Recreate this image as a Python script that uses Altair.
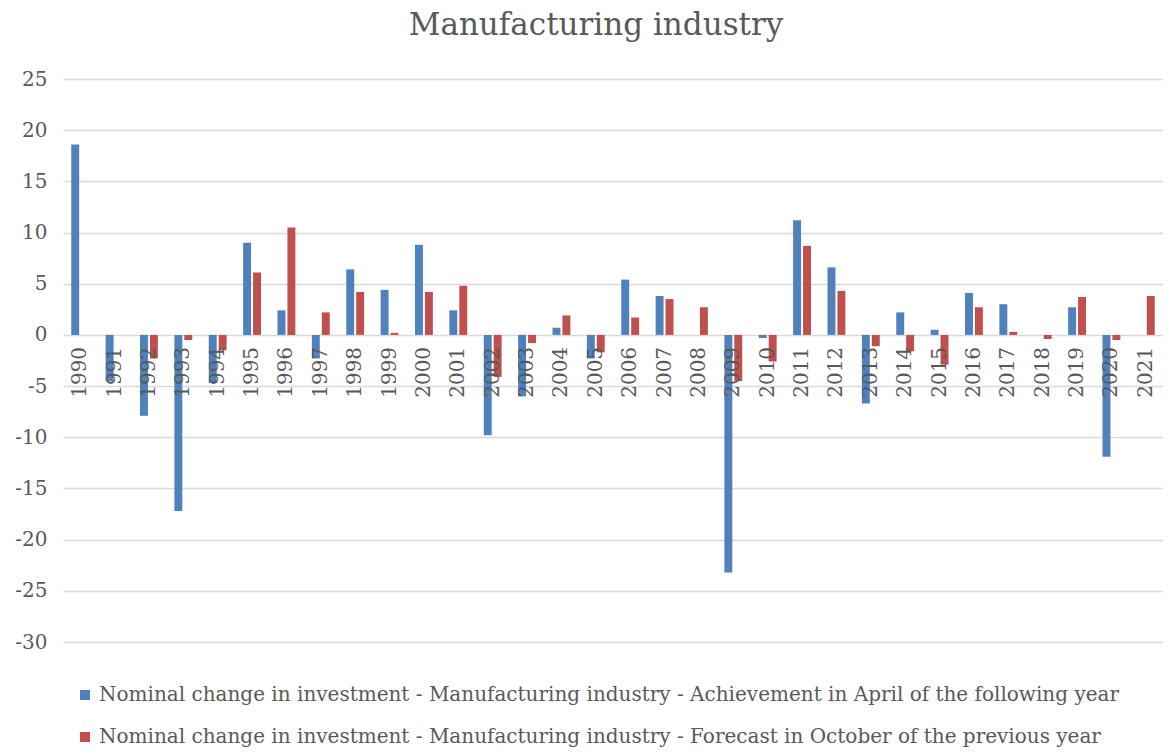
import altair as alt
import pandas as pd

years = [str(y) for y in range(1990, 2022)]
achievement = [18.6, -4.5, -7.9, -17.2, -4.7, 9.0, 2.4, -2.3, 6.4, 4.4, 8.8, 2.4,
               -9.8, -6.0, 0.7, -2.3, 5.4, 3.8, None, -23.2, -0.3, 11.2, 6.6, -6.7,
               2.2, 0.5, 4.1, 3.0, None, 2.7, -11.9, None]
forecast = [None, None, -2.3, -0.5, -1.5, 6.1, 10.5, 2.2, 4.2, 0.2, 4.2, 4.8,
            -4.1, -0.8, 1.9, -1.7, 1.7, 3.5, 2.7, -4.5, -2.6, 8.7, 4.3, -1.1,
            -1.6, -2.9, 2.7, 0.3, -0.4, 3.7, -0.5, 3.8]
series_names = [
    "Nominal change in investment - Manufacturing industry - Achievement in April of the following year",
    "Nominal change in investment - Manufacturing industry - Forecast in October of the previous year",
]
series_colors = ["#4F81BD", "#C0504D"]

rows = []
for name, vals in zip(series_names, [achievement, forecast]):
    for y, v in zip(years, vals):
        if v is not None:
            rows.append({"year": y, "series": name, "value": v})
df = pd.DataFrame(rows)
labels_df = pd.DataFrame({"year": years})

FONT = "DejaVu Serif"
TXT = "#595959"

xscale = alt.Scale(domain=years, paddingInner=0.48, paddingOuter=0.24)

bars = alt.Chart(df).mark_bar().encode(
    x=alt.X("year:N", scale=xscale, axis=None, sort=years),
    xOffset=alt.XOffset("series:N", scale=alt.Scale(domain=series_names, paddingInner=0.2, paddingOuter=0)),
    y=alt.Y("value:Q", scale=alt.Scale(domain=[-30, 25], nice=False, zero=False),
            axis=alt.Axis(values=list(range(-30, 30, 5)), title=None, domain=False, ticks=False,
                          grid=True, gridColor="#D9D9D9", gridWidth=1.3,
                          labelExpr="'' + datum.value",
                          labelFont=FONT, labelFontSize=20, labelColor=TXT, labelPadding=16)),
    color=alt.Color("series:N", scale=alt.Scale(domain=series_names, range=series_colors),
                    legend=alt.Legend(title=None, orient="none", legendX=12, legendY=606,
                                      direction="vertical", symbolType="square", symbolSize=100,
                                      symbolStrokeWidth=0, labelFont=FONT, labelFontSize=20,
                                      labelColor=TXT, labelLimit=1200, rowPadding=22,
                                      labelOffset=4)),
)

labels = alt.Chart(labels_df).mark_text(
    angle=270, align="right", baseline="middle", dx=-12, dy=0, font=FONT, fontSize=20, color=TXT
).encode(
    x=alt.X("year:N", scale=xscale, sort=years),
    y=alt.datum(0),
    text="year:N",
)

chart = alt.layer(bars, labels).properties(
    width=1100, height=563,
    title=alt.Title("Manufacturing industry", font=FONT, fontSize=31, fontWeight="normal",
                    color=TXT, offset=27, dx=-17),
    autosize=alt.AutoSizeParams(type="none"),
    padding={"left": 55, "top": 71, "right": 0, "bottom": 110},
).configure_view(stroke=None)

chart.save("out.html", embed_options={"renderer": "svg", "actions": False})
